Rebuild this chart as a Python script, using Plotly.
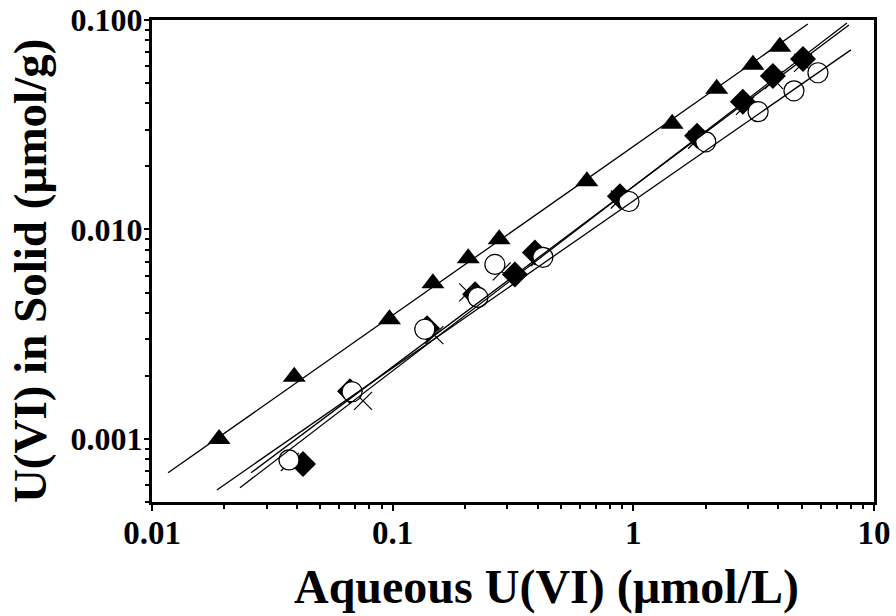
import numpy as np
import plotly.graph_objects as go

# Sorption isotherm data: aqueous U(VI) (umol/L) vs U(VI) in solid (umol/g)
tri_x = [0.019, 0.039, 0.097, 0.147, 0.206, 0.277, 0.641, 1.45, 2.22, 3.14, 4.06]
tri_y = [0.00100, 0.00198, 0.00373, 0.00553, 0.00729, 0.00898, 0.0170, 0.0320, 0.0470, 0.0612, 0.0745]

circ_x = [0.0371, 0.0678, 0.136, 0.226, 0.266, 0.421, 0.959, 2.00, 3.30, 4.65, 5.85]
circ_y = [0.000794, 0.00168, 0.00334, 0.00474, 0.00681, 0.00736, 0.0136, 0.0262, 0.0365, 0.0459, 0.0560]

dia_x = [0.0424, 0.0665, 0.139, 0.220, 0.322, 0.390, 0.879, 1.84, 2.85, 3.80, 5.07]
dia_y = [0.00076, 0.00169, 0.00338, 0.0049, 0.0061, 0.00776, 0.0144, 0.0280, 0.0407, 0.0541, 0.0652]

cross_x = [0.0374, 0.0753, 0.149, 0.206, 0.284, 0.409, 0.879, 1.84, 2.91, 3.84, 5.07]
cross_y = [0.000776, 0.00152, 0.00313, 0.00501, 0.00631, 0.00736, 0.0139, 0.0268, 0.0389, 0.0518, 0.0624]

# Fitted isotherm lines (end points)
tri_fit_x = [0.01166, 5.31]
tri_fit_y = [0.000689, 0.0957]
circ_fit_x = [0.0186, 8.02]
circ_fit_y = [0.000571, 0.0720]
dia_fit_x = [0.0258, 7.87]
dia_fit_y = [0.000689, 0.0947]
cross_fit_x = [0.0232, 7.72]
cross_fit_y = [0.000585, 0.0968]

x_tickvals = [0.01, 0.1, 1, 10]
x_ticktext = ["0.01", "0.1", "1", "10"]
y_tickvals = [0.001, 0.01, 0.1]
y_ticktext = ["0.001", "0.010", "0.100"]

x_title = "Aqueous U(VI) (\u00b5mol/L)"
y_title = "U(VI) in Solid (\u00b5mol/g)"

FONT = "Liberation Serif"

x_minor = [m * 10.0 ** e for e in range(-2, 1) for m in range(2, 10)]
y_minor = [m * 10.0 ** e for e in range(-4, -1) for m in range(2, 10)]

fig = go.Figure()

# markers
fig.add_trace(go.Scatter(
    x=dia_x, y=dia_y, mode="markers",
    marker=dict(symbol="diamond", size=20, color="black", line=dict(width=0)),
))
fig.add_trace(go.Scatter(
    x=cross_x, y=cross_y, mode="markers",
    marker=dict(symbol="x-thin", size=18, color="black", line=dict(width=1.2, color="black")),
))
fig.add_trace(go.Scatter(
    x=circ_x, y=circ_y, mode="markers",
    marker=dict(symbol="circle", size=20, color="white", line=dict(width=1.2, color="black")),
))
fig.add_trace(go.Scatter(
    x=tri_x, y=tri_y, mode="markers",
    marker=dict(symbol="triangle-up", size=20, color="black", line=dict(width=0)),
))

# fitted lines
for fx, fy in [(tri_fit_x, tri_fit_y), (circ_fit_x, circ_fit_y),
               (dia_fit_x, dia_fit_y), (cross_fit_x, cross_fit_y)]:
    fig.add_trace(go.Scatter(
        x=fx, y=fy, mode="lines",
        line=dict(color="black", width=1.3),
    ))

fig.update_layout(
    width=896, height=616,
    margin=dict(l=152, r=22, t=20, b=114),
    paper_bgcolor="white", plot_bgcolor="white",
    showlegend=False,
    font=dict(family=FONT, color="black"),
    annotations=[
        dict(text=x_title, xref="paper", yref="paper", x=0.546, y=-0.176,
             xanchor="center", yanchor="middle", showarrow=False,
             font=dict(family=FONT, size=48, weight="bold", color="black")),
        dict(text=y_title, xref="paper", yref="paper", x=-0.169, y=0.479,
             xanchor="center", yanchor="middle", showarrow=False, textangle=-90,
             font=dict(family=FONT, size=47, weight="bold", color="black")),
    ],
)

fig.update_xaxes(
    type="log", range=[-2, 1], automargin=False,
    tickvals=x_tickvals, ticktext=x_ticktext,
    ticks="outside", ticklen=6, tickwidth=2, tickcolor="black",
    ticklabelstandoff=-7,
    minor=dict(tickvals=x_minor, ticks="outside", ticklen=4, tickwidth=1.5, tickcolor="black", showgrid=False),
    showline=True, linewidth=3, linecolor="black", mirror=True,
    showgrid=False, zeroline=False,
    tickfont=dict(family=FONT, size=33, weight="bold", color="black"),
)
fig.update_yaxes(
    type="log", range=[np.log10(0.0005), -1], automargin=False,
    tickvals=y_tickvals, ticktext=y_ticktext,
    ticks="outside", ticklen=5, tickwidth=2, tickcolor="black",
    ticklabelstandoff=-5,
    minor=dict(tickvals=y_minor, ticks="outside", ticklen=4, tickwidth=1.5, tickcolor="black", showgrid=False),
    showline=True, linewidth=3, linecolor="black", mirror=True,
    showgrid=False, zeroline=False,
    tickfont=dict(family=FONT, size=32, weight="bold", color="black"),
)

fig.write_html("out.html")
